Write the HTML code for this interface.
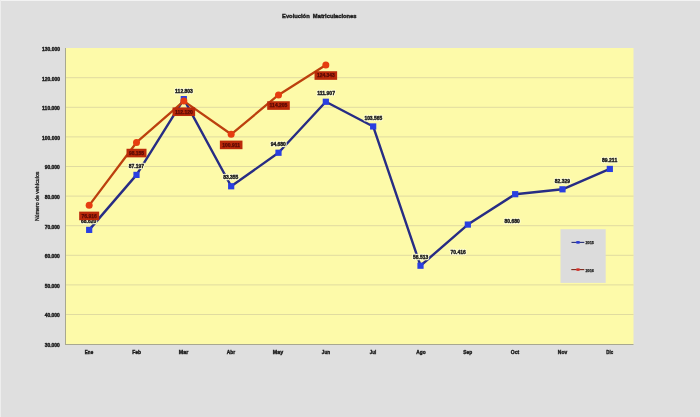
<!DOCTYPE html>
<html><head><meta charset="utf-8"><style>
html,body{margin:0;padding:0;background:#dfdfdf;overflow:hidden;}
svg{display:block;will-change:transform;font-family:"Liberation Sans", sans-serif;}
</style></head><body>
<svg width="700" height="417" viewBox="0 0 700 417">
<rect x="0" y="0" width="700" height="417" fill="#dfdfdf"/>
<rect x="0" y="0" width="700" height="1" fill="#f3f3f3"/><rect x="0" y="0" width="1" height="417" fill="#eeeeee"/>
<rect x="65" y="48.0" width="568.5" height="296.0" fill="#fdfaa9"/>
<text x="59.9" y="346.90" text-anchor="end" font-size="5.3" font-weight="bold" fill="#1c1c1c" stroke="#1c1c1c" stroke-width="0.4" textLength="15.2" lengthAdjust="spacingAndGlyphs">30.000</text>
<line x1="65.5" y1="314.50" x2="633.5" y2="314.50" stroke="#e0dba0" stroke-width="1"/>
<text x="59.9" y="317.30" text-anchor="end" font-size="5.3" font-weight="bold" fill="#1c1c1c" stroke="#1c1c1c" stroke-width="0.4" textLength="15.2" lengthAdjust="spacingAndGlyphs">40.000</text>
<line x1="65.5" y1="284.90" x2="633.5" y2="284.90" stroke="#e0dba0" stroke-width="1"/>
<text x="59.9" y="287.70" text-anchor="end" font-size="5.3" font-weight="bold" fill="#1c1c1c" stroke="#1c1c1c" stroke-width="0.4" textLength="15.2" lengthAdjust="spacingAndGlyphs">50.000</text>
<line x1="65.5" y1="255.30" x2="633.5" y2="255.30" stroke="#e0dba0" stroke-width="1"/>
<text x="59.9" y="258.10" text-anchor="end" font-size="5.3" font-weight="bold" fill="#1c1c1c" stroke="#1c1c1c" stroke-width="0.4" textLength="15.2" lengthAdjust="spacingAndGlyphs">60.000</text>
<line x1="65.5" y1="225.70" x2="633.5" y2="225.70" stroke="#e0dba0" stroke-width="1"/>
<text x="59.9" y="228.50" text-anchor="end" font-size="5.3" font-weight="bold" fill="#1c1c1c" stroke="#1c1c1c" stroke-width="0.4" textLength="15.2" lengthAdjust="spacingAndGlyphs">70.000</text>
<line x1="65.5" y1="196.10" x2="633.5" y2="196.10" stroke="#e0dba0" stroke-width="1"/>
<text x="59.9" y="198.90" text-anchor="end" font-size="5.3" font-weight="bold" fill="#1c1c1c" stroke="#1c1c1c" stroke-width="0.4" textLength="15.2" lengthAdjust="spacingAndGlyphs">80.000</text>
<line x1="65.5" y1="166.50" x2="633.5" y2="166.50" stroke="#e0dba0" stroke-width="1"/>
<text x="59.9" y="169.30" text-anchor="end" font-size="5.3" font-weight="bold" fill="#1c1c1c" stroke="#1c1c1c" stroke-width="0.4" textLength="15.2" lengthAdjust="spacingAndGlyphs">90.000</text>
<line x1="65.5" y1="136.90" x2="633.5" y2="136.90" stroke="#e0dba0" stroke-width="1"/>
<text x="59.9" y="139.70" text-anchor="end" font-size="5.3" font-weight="bold" fill="#1c1c1c" stroke="#1c1c1c" stroke-width="0.4" textLength="17.8" lengthAdjust="spacingAndGlyphs">100.000</text>
<line x1="65.5" y1="107.30" x2="633.5" y2="107.30" stroke="#e0dba0" stroke-width="1"/>
<text x="59.9" y="110.10" text-anchor="end" font-size="5.3" font-weight="bold" fill="#1c1c1c" stroke="#1c1c1c" stroke-width="0.4" textLength="17.8" lengthAdjust="spacingAndGlyphs">110.000</text>
<line x1="65.5" y1="77.70" x2="633.5" y2="77.70" stroke="#e0dba0" stroke-width="1"/>
<text x="59.9" y="80.50" text-anchor="end" font-size="5.3" font-weight="bold" fill="#1c1c1c" stroke="#1c1c1c" stroke-width="0.4" textLength="17.8" lengthAdjust="spacingAndGlyphs">120.000</text>
<text x="59.9" y="50.90" text-anchor="end" font-size="5.3" font-weight="bold" fill="#1c1c1c" stroke="#1c1c1c" stroke-width="0.4" textLength="17.8" lengthAdjust="spacingAndGlyphs">130.000</text>
<line x1="65.5" y1="48.0" x2="65.5" y2="344.5" stroke="#a8a890" stroke-width="1"/>
<line x1="65" y1="344.5" x2="633.5" y2="344.5" stroke="#a8a890" stroke-width="1"/>
<text x="89.00" y="353.8" text-anchor="middle" font-size="5.3" font-weight="bold" fill="#1c1c1c" stroke="#1c1c1c" stroke-width="0.4" textLength="8.3" lengthAdjust="spacingAndGlyphs">Ene</text>
<text x="136.75" y="353.8" text-anchor="middle" font-size="5.3" font-weight="bold" fill="#1c1c1c" stroke="#1c1c1c" stroke-width="0.4" textLength="8.8" lengthAdjust="spacingAndGlyphs">Feb</text>
<text x="183.60" y="353.8" text-anchor="middle" font-size="5.3" font-weight="bold" fill="#1c1c1c" stroke="#1c1c1c" stroke-width="0.4" textLength="9.5" lengthAdjust="spacingAndGlyphs">Mar</text>
<text x="231.00" y="353.8" text-anchor="middle" font-size="5.3" font-weight="bold" fill="#1c1c1c" stroke="#1c1c1c" stroke-width="0.4" textLength="8.3" lengthAdjust="spacingAndGlyphs">Abr</text>
<text x="278.00" y="353.8" text-anchor="middle" font-size="5.3" font-weight="bold" fill="#1c1c1c" stroke="#1c1c1c" stroke-width="0.4" textLength="10.3" lengthAdjust="spacingAndGlyphs">May</text>
<text x="326.00" y="353.8" text-anchor="middle" font-size="5.3" font-weight="bold" fill="#1c1c1c" stroke="#1c1c1c" stroke-width="0.4" textLength="8.3" lengthAdjust="spacingAndGlyphs">Jun</text>
<text x="373.00" y="353.8" text-anchor="middle" font-size="5.3" font-weight="bold" fill="#1c1c1c" stroke="#1c1c1c" stroke-width="0.4" textLength="6.3" lengthAdjust="spacingAndGlyphs">Jul</text>
<text x="421.00" y="353.8" text-anchor="middle" font-size="5.3" font-weight="bold" fill="#1c1c1c" stroke="#1c1c1c" stroke-width="0.4" textLength="9.3" lengthAdjust="spacingAndGlyphs">Ago</text>
<text x="467.75" y="353.8" text-anchor="middle" font-size="5.3" font-weight="bold" fill="#1c1c1c" stroke="#1c1c1c" stroke-width="0.4" textLength="8.8" lengthAdjust="spacingAndGlyphs">Sep</text>
<text x="515.00" y="353.8" text-anchor="middle" font-size="5.3" font-weight="bold" fill="#1c1c1c" stroke="#1c1c1c" stroke-width="0.4" textLength="8.3" lengthAdjust="spacingAndGlyphs">Oct</text>
<text x="562.50" y="353.8" text-anchor="middle" font-size="5.3" font-weight="bold" fill="#1c1c1c" stroke="#1c1c1c" stroke-width="0.4" textLength="9.3" lengthAdjust="spacingAndGlyphs">Nov</text>
<text x="609.75" y="353.8" text-anchor="middle" font-size="5.3" font-weight="bold" fill="#1c1c1c" stroke="#1c1c1c" stroke-width="0.4" textLength="6.8" lengthAdjust="spacingAndGlyphs">Dic</text>
<text x="319.3" y="18.2" text-anchor="middle" font-size="6" font-weight="bold" fill="#1c1c1c" stroke="#1c1c1c" stroke-width="0.4" textLength="74.5" lengthAdjust="spacingAndGlyphs" xml:space="preserve">Evolución  Matriculaciones</text>
<text transform="translate(39.2,196.3) rotate(-90)" text-anchor="middle" font-size="5.2" fill="#1c1c1c" stroke="#1c1c1c" stroke-width="0.3" textLength="49.5" lengthAdjust="spacingAndGlyphs">Número de vehículos</text>
<polyline points="89.17,229.88 136.50,174.90 183.83,99.10 231.17,186.27 278.50,152.75 325.83,101.76 373.17,126.45 420.50,265.72 467.83,224.57 515.17,194.19 562.50,189.31 609.83,168.94" fill="none" stroke="#272c84" stroke-width="2.4" stroke-linejoin="round"/>
<polyline points="89.17,205.33 136.50,142.46 183.83,101.12 231.17,134.30 278.50,94.95 325.83,64.94" fill="none" stroke="#bc400e" stroke-width="2.3" stroke-linejoin="round"/>
<rect x="86.07" y="226.78" width="6.2" height="6.2" fill="#2a3fe0"/>
<rect x="133.40" y="171.80" width="6.2" height="6.2" fill="#2a3fe0"/>
<rect x="180.73" y="96.00" width="6.2" height="6.2" fill="#2a3fe0"/>
<rect x="228.07" y="183.17" width="6.2" height="6.2" fill="#2a3fe0"/>
<rect x="275.40" y="149.65" width="6.2" height="6.2" fill="#2a3fe0"/>
<rect x="322.73" y="98.66" width="6.2" height="6.2" fill="#2a3fe0"/>
<rect x="370.07" y="123.35" width="6.2" height="6.2" fill="#2a3fe0"/>
<rect x="417.40" y="262.62" width="6.2" height="6.2" fill="#2a3fe0"/>
<rect x="464.73" y="221.47" width="6.2" height="6.2" fill="#2a3fe0"/>
<rect x="512.07" y="191.09" width="6.2" height="6.2" fill="#2a3fe0"/>
<rect x="559.40" y="186.21" width="6.2" height="6.2" fill="#2a3fe0"/>
<rect x="606.73" y="165.84" width="6.2" height="6.2" fill="#2a3fe0"/>
<circle cx="89.17" cy="205.33" r="3.5" fill="#e63c10"/>
<circle cx="136.50" cy="142.46" r="3.5" fill="#e63c10"/>
<circle cx="183.83" cy="101.12" r="3.5" fill="#e63c10"/>
<circle cx="231.17" cy="134.30" r="3.5" fill="#e63c10"/>
<circle cx="278.50" cy="94.95" r="3.5" fill="#e63c10"/>
<circle cx="325.83" cy="64.94" r="3.5" fill="#e63c10"/>
<text x="88.7" y="222.6" text-anchor="middle" font-size="5.3" font-weight="bold" fill="#fefdd4" stroke="#fefdd4" stroke-width="2.4" stroke-linejoin="round" textLength="15.2" lengthAdjust="spacingAndGlyphs">68.620</text>
<text x="88.7" y="222.6" text-anchor="middle" font-size="5.3" font-weight="bold" fill="#1c1c1c" stroke="#1c1c1c" stroke-width="0.4" textLength="15.2" lengthAdjust="spacingAndGlyphs">68.620</text>
<text x="136.4" y="168.4" text-anchor="middle" font-size="5.3" font-weight="bold" fill="#fefdd4" stroke="#fefdd4" stroke-width="2.4" stroke-linejoin="round" textLength="15.2" lengthAdjust="spacingAndGlyphs">87.197</text>
<text x="136.4" y="168.4" text-anchor="middle" font-size="5.3" font-weight="bold" fill="#1c1c1c" stroke="#1c1c1c" stroke-width="0.4" textLength="15.2" lengthAdjust="spacingAndGlyphs">87.197</text>
<text x="184.0" y="92.6" text-anchor="middle" font-size="5.3" font-weight="bold" fill="#fefdd4" stroke="#fefdd4" stroke-width="2.4" stroke-linejoin="round" textLength="17.8" lengthAdjust="spacingAndGlyphs">112.803</text>
<text x="184.0" y="92.6" text-anchor="middle" font-size="5.3" font-weight="bold" fill="#1c1c1c" stroke="#1c1c1c" stroke-width="0.4" textLength="17.8" lengthAdjust="spacingAndGlyphs">112.803</text>
<text x="230.8" y="179.4" text-anchor="middle" font-size="5.3" font-weight="bold" fill="#fefdd4" stroke="#fefdd4" stroke-width="2.4" stroke-linejoin="round" textLength="15.2" lengthAdjust="spacingAndGlyphs">83.355</text>
<text x="230.8" y="179.4" text-anchor="middle" font-size="5.3" font-weight="bold" fill="#1c1c1c" stroke="#1c1c1c" stroke-width="0.4" textLength="15.2" lengthAdjust="spacingAndGlyphs">83.355</text>
<text x="278.3" y="145.8" text-anchor="middle" font-size="5.3" font-weight="bold" fill="#fefdd4" stroke="#fefdd4" stroke-width="2.4" stroke-linejoin="round" textLength="15.2" lengthAdjust="spacingAndGlyphs">94.680</text>
<text x="278.3" y="145.8" text-anchor="middle" font-size="5.3" font-weight="bold" fill="#1c1c1c" stroke="#1c1c1c" stroke-width="0.4" textLength="15.2" lengthAdjust="spacingAndGlyphs">94.680</text>
<text x="326.1" y="95.2" text-anchor="middle" font-size="5.3" font-weight="bold" fill="#fefdd4" stroke="#fefdd4" stroke-width="2.4" stroke-linejoin="round" textLength="17.8" lengthAdjust="spacingAndGlyphs">111.907</text>
<text x="326.1" y="95.2" text-anchor="middle" font-size="5.3" font-weight="bold" fill="#1c1c1c" stroke="#1c1c1c" stroke-width="0.4" textLength="17.8" lengthAdjust="spacingAndGlyphs">111.907</text>
<text x="373.3" y="119.6" text-anchor="middle" font-size="5.3" font-weight="bold" fill="#fefdd4" stroke="#fefdd4" stroke-width="2.4" stroke-linejoin="round" textLength="17.8" lengthAdjust="spacingAndGlyphs">103.565</text>
<text x="373.3" y="119.6" text-anchor="middle" font-size="5.3" font-weight="bold" fill="#1c1c1c" stroke="#1c1c1c" stroke-width="0.4" textLength="17.8" lengthAdjust="spacingAndGlyphs">103.565</text>
<text x="420.6" y="259.0" text-anchor="middle" font-size="5.3" font-weight="bold" fill="#fefdd4" stroke="#fefdd4" stroke-width="2.4" stroke-linejoin="round" textLength="15.2" lengthAdjust="spacingAndGlyphs">56.513</text>
<text x="420.6" y="259.0" text-anchor="middle" font-size="5.3" font-weight="bold" fill="#1c1c1c" stroke="#1c1c1c" stroke-width="0.4" textLength="15.2" lengthAdjust="spacingAndGlyphs">56.513</text>
<text x="458.2" y="253.5" text-anchor="middle" font-size="5.3" font-weight="bold" fill="#fefdd4" stroke="#fefdd4" stroke-width="2.4" stroke-linejoin="round" textLength="15.2" lengthAdjust="spacingAndGlyphs">70.416</text>
<text x="458.2" y="253.5" text-anchor="middle" font-size="5.3" font-weight="bold" fill="#1c1c1c" stroke="#1c1c1c" stroke-width="0.4" textLength="15.2" lengthAdjust="spacingAndGlyphs">70.416</text>
<text x="512.1" y="222.8" text-anchor="middle" font-size="5.3" font-weight="bold" fill="#fefdd4" stroke="#fefdd4" stroke-width="2.4" stroke-linejoin="round" textLength="15.2" lengthAdjust="spacingAndGlyphs">80.680</text>
<text x="512.1" y="222.8" text-anchor="middle" font-size="5.3" font-weight="bold" fill="#1c1c1c" stroke="#1c1c1c" stroke-width="0.4" textLength="15.2" lengthAdjust="spacingAndGlyphs">80.680</text>
<text x="562.4" y="182.6" text-anchor="middle" font-size="5.3" font-weight="bold" fill="#fefdd4" stroke="#fefdd4" stroke-width="2.4" stroke-linejoin="round" textLength="15.2" lengthAdjust="spacingAndGlyphs">82.329</text>
<text x="562.4" y="182.6" text-anchor="middle" font-size="5.3" font-weight="bold" fill="#1c1c1c" stroke="#1c1c1c" stroke-width="0.4" textLength="15.2" lengthAdjust="spacingAndGlyphs">82.329</text>
<text x="609.6" y="162.2" text-anchor="middle" font-size="5.3" font-weight="bold" fill="#fefdd4" stroke="#fefdd4" stroke-width="2.4" stroke-linejoin="round" textLength="15.2" lengthAdjust="spacingAndGlyphs">89.211</text>
<text x="609.6" y="162.2" text-anchor="middle" font-size="5.3" font-weight="bold" fill="#1c1c1c" stroke="#1c1c1c" stroke-width="0.4" textLength="15.2" lengthAdjust="spacingAndGlyphs">89.211</text>
<rect x="79.17" y="211.63" width="20.00" height="8.6" fill="#ba2a0a"/>
<text x="89.17" y="217.73" text-anchor="middle" font-size="5.3" font-weight="bold" fill="#560806" stroke="#560806" stroke-width="0.25" textLength="15.2" lengthAdjust="spacingAndGlyphs">76.916</text>
<rect x="126.50" y="148.76" width="20.00" height="8.6" fill="#ba2a0a"/>
<text x="136.50" y="154.86" text-anchor="middle" font-size="5.3" font-weight="bold" fill="#560806" stroke="#560806" stroke-width="0.25" textLength="15.2" lengthAdjust="spacingAndGlyphs">98.155</text>
<rect x="172.53" y="107.42" width="22.60" height="8.6" fill="#ba2a0a"/>
<text x="183.83" y="113.52" text-anchor="middle" font-size="5.3" font-weight="bold" fill="#560806" stroke="#560806" stroke-width="0.25" textLength="17.8" lengthAdjust="spacingAndGlyphs">112.120</text>
<rect x="219.87" y="140.60" width="22.60" height="8.6" fill="#ba2a0a"/>
<text x="231.17" y="146.70" text-anchor="middle" font-size="5.3" font-weight="bold" fill="#560806" stroke="#560806" stroke-width="0.25" textLength="17.8" lengthAdjust="spacingAndGlyphs">100.911</text>
<rect x="267.20" y="101.25" width="22.60" height="8.6" fill="#ba2a0a"/>
<text x="278.50" y="107.35" text-anchor="middle" font-size="5.3" font-weight="bold" fill="#560806" stroke="#560806" stroke-width="0.25" textLength="17.8" lengthAdjust="spacingAndGlyphs">114.205</text>
<rect x="314.53" y="71.24" width="22.60" height="8.6" fill="#ba2a0a"/>
<text x="325.83" y="77.34" text-anchor="middle" font-size="5.3" font-weight="bold" fill="#560806" stroke="#560806" stroke-width="0.25" textLength="17.8" lengthAdjust="spacingAndGlyphs">124.343</text>
<rect x="560.5" y="229.2" width="45.2" height="53.7" fill="#dcdcdc"/>
<line x1="571.5" y1="242.4" x2="584.3" y2="242.4" stroke="#283070" stroke-width="1.1"/>
<ellipse cx="578" cy="242.4" rx="2.2" ry="1.3" fill="#2a3ad0"/>
<text x="585.4" y="244.3" font-size="3.9" font-weight="bold" fill="#1c1c1c" stroke="#1c1c1c" stroke-width="0.25" textLength="8.6" lengthAdjust="spacingAndGlyphs">2015</text>
<line x1="571.3" y1="269.6" x2="584.3" y2="269.6" stroke="#7a2418" stroke-width="1.1"/>
<ellipse cx="578" cy="269.6" rx="2.2" ry="1.3" fill="#d0302a"/>
<text x="585.4" y="271.5" font-size="3.9" font-weight="bold" fill="#1c1c1c" stroke="#1c1c1c" stroke-width="0.25" textLength="8.6" lengthAdjust="spacingAndGlyphs">2016</text>
</svg>
</body></html>
